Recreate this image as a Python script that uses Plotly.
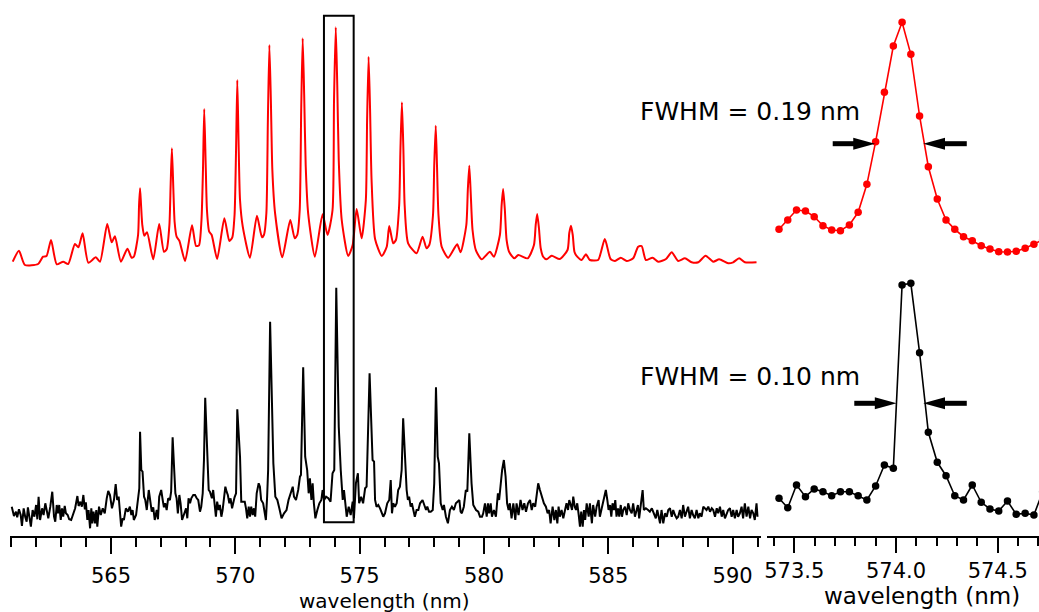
import plotly.graph_objects as go

# ---------------- data (wavelength in nm, intensity in arbitrary units) ----------------
RED_WL = [
    561.05, 561.30, 561.54, 562.07, 562.27, 562.41, 562.59, 562.82, 563.08, 563.28,
    563.55, 563.69, 563.86, 564.09, 564.39, 564.56, 564.85, 565.03, 565.16, 565.40,
    565.66, 565.83, 565.92, 566.09, 566.13, 566.17, 566.21, 566.26, 566.34, 566.45,
    566.70, 566.94, 567.13, 567.24, 567.35, 567.40, 567.45, 567.51, 567.56, 567.64,
    567.75, 567.98, 568.26, 568.42, 568.54, 568.64, 568.70, 568.75, 568.81, 568.86,
    568.95, 569.05, 569.27, 569.56, 569.76, 569.88, 569.97, 570.03, 570.08, 570.13,
    570.19, 570.30, 570.59, 570.87, 571.07, 571.15, 571.25, 571.31, 571.37, 571.43,
    571.49, 571.60, 571.89, 572.21, 572.39, 572.49, 572.59, 572.65, 572.71, 572.77,
    572.83, 572.93, 573.20, 573.51, 573.71, 573.91, 573.97, 574.04, 574.10, 574.16,
    574.28, 574.54, 574.72, 574.88, 575.08, 575.25, 575.30, 575.36, 575.42, 575.48,
    575.62, 575.89, 576.09, 576.19, 576.35, 576.46, 576.59, 576.64, 576.70, 576.76,
    576.81, 576.95, 577.29, 577.53, 577.69, 577.80, 577.95, 578.00, 578.06, 578.11,
    578.17, 578.30, 578.56, 578.92, 579.06, 579.29, 579.35, 579.41, 579.47, 579.54,
    579.68, 579.91, 580.24, 580.40, 580.64, 580.71, 580.77, 580.84, 580.91, 581.02,
    581.22, 581.38, 581.76, 582.01, 582.08, 582.14, 582.21, 582.28, 582.38, 582.52,
    582.72, 583.05, 583.36, 583.43, 583.50, 583.57, 583.64, 583.75, 583.93, 584.10,
    584.26, 584.59, 584.86, 585.09, 585.27, 585.50, 585.74, 586.00, 586.20, 586.34,
    586.51, 586.78, 587.01, 587.32, 587.55, 587.81, 588.08, 588.35, 588.62, 588.91,
    589.22, 589.46, 589.82, 590.02, 590.26, 590.49, 590.96,
]
RED_INT = [
    2.3, 13.3, -1.0, 0, 7.3, 8.0, 24.0, -0.3, 2.3, 0,
    20.0, 16.7, 30.7, 1.3, 6.7, 2.3, 40.0, 21.7, 27.7, 2.3,
    15.3, 6.3, 7.3, 29, 59, 75.7, 59, 39, 28.3, 31.7,
    4.7, 40.0, 12.3, 14.7, 39, 79, 115.7, 74, 42, 27.3,
    23.3, 3.0, 38.7, 18.0, 18.7, 44, 94, 155, 99, 54,
    32.3, 29.0, 5.0, 45.7, 23.0, 26.7, 49, 114, 184, 124,
    64, 37.3, 6.3, 48.3, 26.7, 29.0, 51, 144, 219, 164,
    94, 50.7, 6.7, 44.0, 25.7, 29.0, 54, 154, 225.7, 169,
    99, 50.7, 7.3, 49.7, 29.0, 54, 164, 236.7, 179, 104,
    44.0, 8.0, 19.0, 55.0, 25.7, 64, 144, 207.3, 154, 84,
    25.0, 8.0, 17.3, 38.0, 20.7, 24.0, 59, 114, 161.7, 114,
    59, 20.7, 10.7, 27.3, 15.7, 19.0, 49, 99, 138.3, 99,
    49, 17.3, 6.3, 19.7, 11.7, 39, 74, 98.3, 69, 34,
    13.3, 4.7, 12.3, 7.3, 29, 59, 75, 54, 24, 11.7,
    5.7, 9.0, 5.7, 19, 39, 50, 36, 16, 7.3, 4.7,
    8.3, 5.0, 14, 31, 38.3, 29, 12, 7.3, 4.0, 9.7,
    4.0, 4.0, 25.0, 5.0, 3.0, 6.3, 3.0, 5.7, 17.3, 18.0,
    4.0, 6.3, 2.3, 5.0, 11.7, 3.0, 5.7, 1.7, 1.7, 8.3,
    2.3, 4.7, 0.7, 1.7, 5.7, 1.7, 1.7,
]
RED_OFFSET = 272  # vertical offset of the red spectrum

BLACK_WL = [
    561.01, 561.10, 561.18, 561.23, 561.30, 561.37, 561.42, 561.49, 561.55, 561.61,
    561.66, 561.72, 561.78, 561.85, 561.92, 561.99, 562.04, 562.09, 562.15, 562.23,
    562.29, 562.36, 562.41, 562.48, 562.56, 562.64, 562.71, 562.76, 562.82, 562.87,
    562.92, 562.98, 563.03, 563.08, 563.14, 563.19, 563.26, 563.32, 563.40, 563.48,
    563.56, 563.65, 563.70, 563.77, 563.83, 563.89, 563.95, 563.99, 564.05, 564.10,
    564.16, 564.21, 564.25, 564.30, 564.36, 564.41, 564.45, 564.52, 564.59, 564.67,
    564.75, 564.83, 564.89, 564.96, 565.04, 565.12, 565.19, 565.25, 565.31, 565.36,
    565.41, 565.47, 565.52, 565.60, 565.68, 565.76, 565.82, 565.87, 565.92, 566.01,
    566.09, 566.14, 566.17, 566.22, 566.27, 566.33, 566.38, 566.44, 566.52, 566.57,
    566.64, 566.70, 566.76, 566.84, 566.89, 566.94, 567.02, 567.08, 567.13, 567.18,
    567.24, 567.30, 567.37, 567.42, 567.48, 567.53, 567.59, 567.64, 567.69, 567.75,
    567.80, 567.86, 567.91, 567.96, 568.02, 568.07, 568.12, 568.18, 568.23, 568.31,
    568.38, 568.45, 568.51, 568.58, 568.63, 568.69, 568.74, 568.79, 568.87, 568.93,
    568.98, 569.06, 569.11, 569.17, 569.22, 569.27, 569.33, 569.38, 569.44, 569.49,
    569.54, 569.60, 569.65, 569.70, 569.76, 569.81, 569.87, 569.92, 569.97, 570.03,
    570.08, 570.19, 570.24, 570.30, 570.38, 570.43, 570.48, 570.54, 570.59, 570.64,
    570.70, 570.75, 570.80, 570.86, 570.94, 570.99, 571.04, 571.12, 571.23, 571.28,
    571.32, 571.40, 571.53, 571.61, 571.69, 571.77, 571.86, 571.96, 572.06, 572.14,
    572.23, 572.31, 572.36, 572.44, 572.53, 572.60, 572.64, 572.73, 572.81, 572.89,
    572.95, 573.00, 573.06, 573.11, 573.16, 573.22, 573.30, 573.38, 573.46, 573.51,
    573.57, 573.65, 573.74, 573.83, 573.91, 573.98, 574.06, 574.16, 574.24, 574.32,
    574.37, 574.42, 574.48, 574.56, 574.64, 574.72, 574.77, 574.85, 574.93, 574.98,
    575.06, 575.14, 575.22, 575.28, 575.40, 575.52, 575.58, 575.62, 575.68, 575.75,
    575.82, 575.95, 576.02, 576.11, 576.19, 576.25, 576.30, 576.35, 576.42, 576.49,
    576.55, 576.62, 576.69, 576.75, 576.82, 576.89, 576.94, 576.99, 577.05, 577.10,
    577.16, 577.22, 577.29, 577.36, 577.43, 577.53, 577.60, 577.67, 577.72, 577.79,
    577.86, 577.94, 578.00, 578.07, 578.14, 578.19, 578.26, 578.34, 578.39, 578.47,
    578.55, 578.63, 578.71, 578.79, 578.87, 578.95, 579.01, 579.06, 579.11, 579.19,
    579.27, 579.33, 579.41, 579.50, 579.57, 579.68, 579.77, 579.84, 579.92, 579.97,
    580.04, 580.11, 580.16, 580.21, 580.27, 580.32, 580.40, 580.48, 580.56, 580.61,
    580.67, 580.73, 580.80, 580.87, 580.93, 580.99, 581.04, 581.11, 581.18, 581.26,
    581.31, 581.39, 581.47, 581.55, 581.62, 581.69, 581.77, 581.85, 581.92, 581.98,
    582.06, 582.12, 582.18, 582.25, 582.33, 582.41, 582.49, 582.56, 582.62, 582.68,
    582.76, 582.83, 582.89, 582.95, 583.00, 583.05, 583.12, 583.19, 583.26, 583.32,
    583.38, 583.43, 583.49, 583.54, 583.59, 583.65, 583.70, 583.75, 583.81, 583.86,
    583.91, 583.97, 584.02, 584.07, 584.13, 584.21, 584.26, 584.34, 584.39, 584.47,
    584.53, 584.61, 584.66, 584.72, 584.77, 584.83, 584.90, 584.96, 585.01, 585.07,
    585.12, 585.17, 585.23, 585.28, 585.33, 585.39, 585.44, 585.50, 585.55, 585.60,
    585.67, 585.74, 585.80, 585.87, 585.94, 586.00, 586.07, 586.14, 586.19, 586.24,
    586.30, 586.38, 586.43, 586.51, 586.60, 586.67, 586.75, 586.83, 586.91, 586.97,
    587.02, 587.08, 587.14, 587.21, 587.28, 587.35, 587.41, 587.48, 587.55, 587.61,
    587.68, 587.75, 587.81, 587.88, 587.95, 588.01, 588.08, 588.15, 588.21, 588.28,
    588.35, 588.41, 588.48, 588.55, 588.62, 588.68, 588.75, 588.82, 588.89, 588.95,
    589.02, 589.09, 589.16, 589.22, 589.29, 589.36, 589.42, 589.49, 589.56, 589.62,
    589.69, 589.76, 589.82, 589.89, 589.96, 590.02, 590.09, 590.16, 590.22, 590.29,
    590.36, 590.42, 590.49, 590.56, 590.63, 590.70, 590.76, 590.83, 590.89, 590.96,
    591.00,
]
BLACK_INT = [
    29.3, 20.0, 24.3, 18.7, 26.7, 21.0, 10.0, 27.7, 19.3, 14.3,
    28.7, 16.0, 9.3, 26.0, 19.3, 31.0, 16.7, 39.3, 16.0, 27.7,
    21.0, 32.7, 24.3, 17.7, 29.3, 44.3, 19.3, 14.3, 31.0, 22.7,
    31.0, 16.0, 27.7, 19.3, 30.0, 22.7, 21.0, 16.7, 16.0, 21.0,
    27.7, 40.0, 30.0, 34.3, 29.3, 41.0, 26.7, 33.7, 16.0, 26.0,
    7.7, 27.7, 12.7, 24.3, 12.7, 26.0, 9.3, 29.3, 21.0, 27.7,
    22.7, 37.7, 45.0, 41.0, 27.7, 36.0, 52.0, 36.0, 39.3, 24.3,
    9.3, 17.7, 16.0, 27.7, 24.3, 29.3, 21.0, 26.0, 16.0, 21.0,
    41.0, 47.7, 104.3, 66.0, 64.3, 39.3, 36.0, 26.0, 46.0, 36.0,
    24.3, 28.7, 16.0, 26.0, 16.7, 39.3, 46.0, 36.0, 28.7, 32.7,
    26.0, 37.7, 36.0, 44.3, 98.7, 72.7, 42.7, 37.7, 22.7, 41.0,
    32.7, 16.0, 19.3, 22.7, 27.7, 17.7, 37.7, 32.7, 37.7, 41.0,
    41.0, 37.7, 36.0, 24.3, 29.3, 42.7, 76.0, 138.3, 76.0, 46.0,
    44.3, 37.7, 46.0, 27.7, 19.3, 34.3, 26.0, 31.0, 19.3, 26.0,
    36.0, 49.3, 44.3, 41.0, 32.7, 37.7, 27.7, 34.3, 38.7, 42.7,
    126.7, 79.3, 34.3, 34.3, 34.3, 27.7, 17.7, 29.3, 19.3, 29.3,
    21.0, 27.7, 19.3, 42.7, 52.7, 49.3, 36.0, 32.7, 16.0, 39.3,
    66.0, 214.3, 72.7, 39.3, 36.0, 27.7, 17.7, 22.7, 26.0, 36.0,
    44.3, 49.3, 39.3, 36.0, 46.0, 59.3, 61.0, 168.7, 79.3, 66.0,
    42.7, 57.7, 36.0, 52.7, 32.7, 17.7, 26.0, 32.7, 36.0, 46.0,
    36.0, 39.3, 37.7, 34.3, 62.7, 66.0, 248.3, 109.3, 66.0, 36.0,
    46.0, 32.7, 19.3, 29.3, 21.0, 34.3, 17.7, 52.7, 62.7, 32.7,
    39.3, 32.7, 47.7, 49.3, 162.7, 76.0, 74.3, 36.0, 29.3, 31.0,
    27.7, 19.3, 22.7, 32.7, 36.0, 56.0, 22.7, 32.7, 29.3, 32.7,
    46.0, 49.3, 66.0, 117.7, 79.3, 46.0, 36.0, 39.3, 29.3, 32.7,
    26.0, 19.3, 26.0, 26.0, 32.7, 36.0, 31.0, 26.0, 29.3, 24.3,
    24.3, 26.0, 52.7, 148.7, 79.3, 72.7, 32.7, 26.0, 31.0, 19.3,
    12.7, 26.0, 29.3, 26.0, 32.7, 34.3, 36.0, 24.3, 22.7, 29.3,
    46.0, 44.3, 102.7, 52.7, 31.0, 26.0, 24.3, 19.3, 19.3, 22.7,
    32.7, 19.3, 32.7, 22.7, 32.7, 19.3, 26.0, 19.3, 42.7, 36.0,
    52.7, 66.0, 76.0, 59.3, 32.7, 26.0, 32.7, 17.7, 32.7, 16.0,
    32.7, 21.0, 36.0, 26.0, 32.7, 24.3, 32.7, 36.0, 26.0, 32.7,
    29.3, 42.7, 52.7, 46.0, 39.3, 32.7, 29.3, 22.7, 26.0, 12.7,
    29.3, 16.0, 26.0, 12.7, 29.3, 19.3, 26.0, 17.7, 26.0, 32.7,
    26.0, 36.0, 31.0, 26.0, 39.3, 29.3, 26.0, 32.7, 21.0, 9.3,
    24.3, 9.3, 26.0, 16.0, 32.7, 19.3, 32.7, 12.7, 31.0, 19.3,
    29.3, 36.0, 19.3, 26.0, 32.7, 36.0, 46.0, 36.0, 26.0, 31.0,
    19.3, 32.7, 26.0, 36.0, 19.3, 27.7, 19.3, 31.0, 19.3, 26.0,
    29.3, 21.0, 32.7, 26.0, 22.7, 32.7, 19.3, 26.0, 31.0, 17.7,
    32.7, 46.0, 26.0, 27.7, 26.0, 24.3, 27.7, 22.7, 17.7, 26.0,
    19.3, 12.7, 26.0, 12.7, 22.7, 19.3, 26.0, 27.7, 19.3, 26.0,
    21.0, 17.7, 19.3, 26.0, 17.7, 31.0, 19.3, 26.0, 29.3, 17.7,
    26.0, 21.0, 17.7, 26.0, 17.7, 22.7, 19.3, 29.3, 27.7, 26.0,
    29.3, 24.3, 27.7, 26.0, 19.3, 27.7, 22.7, 29.3, 19.3, 26.0,
    17.7, 22.7, 26.0, 27.7, 19.3, 26.0, 17.7, 26.0, 19.3, 22.7,
    29.3, 17.7, 32.7, 19.3, 29.3, 17.7, 26.0, 22.7, 16.0, 32.7,
    19.3,
]

# zoomed region (right panel)
ZOOM_WL = [
    573.425, 573.468, 573.511, 573.555, 573.598, 573.641, 573.684, 573.727,
    573.771, 573.814, 573.857, 573.900, 573.943, 573.987, 574.030, 574.073,
    574.116, 574.159, 574.203, 574.246, 574.289, 574.332, 574.375, 574.419,
    574.462, 574.505, 574.548, 574.591, 574.635, 574.678, 574.721,
]
ZOOM_RED = [
    34.7, 44.0, 54.0, 53.0, 47.3, 38.3, 34.0, 33.3, 39.0, 51.7, 79.7, 122.3,
    171.7, 218.0, 241.7, 209.7, 148.0, 97.3, 65.0, 44.0, 34.7, 27.3, 23.3,
    18.3, 15.0, 12.3, 12.0, 12.7, 15.7, 19.7, 24.0,
]
ZOOM_BLACK = [
    37.7, 28.3, 51.0, 39.3, 47.0, 44.3, 40.3, 44.3, 44.3, 40.3, 36.0, 50.0,
    71.0, 67.7, 251.0, 252.7, 183.3, 103.7, 73.7, 60.3, 40.3, 36.0, 51.0,
    33.7, 27.0, 25.0, 35.0, 21.7, 22.7, 21.0, 44.3,
]

assert len(RED_WL) == len(RED_INT)
assert len(BLACK_WL) == len(BLACK_INT)
assert len(ZOOM_WL) == len(ZOOM_RED) == len(ZOOM_BLACK)

# window shown in the zoom panel (box on the overview)
BOX_WL = (573.565, 574.76)
BOX_INT = (13.7, 520.3)

# FWHM arrows: (level, left tail, left tip, right tip, right tail)
FWHM_RED = (392.3, 573.689, 573.897, 574.134, 574.348)
FWHM_BLACK = (132.7, 573.795, 574.003, 574.134, 574.348)
FWHM_LABELS = ["FWHM = 0.19 nm", "FWHM = 0.10 nm"]

LEFT_TICKS = [565, 570, 575, 580, 585, 590]
RIGHT_TICKS = [573.5, 574.0, 574.5]

FONT = "DejaVu Sans"
RED = "#ff0000"
BLACK = "#000000"

# ---------------- figure ----------------
fig = go.Figure()
fig.add_trace(go.Scatter(x=RED_WL, y=[v + RED_OFFSET for v in RED_INT], mode="lines",
                         line=dict(color=RED, width=2, shape="spline", smoothing=0.6),
                         xaxis="x", yaxis="y"))
fig.add_trace(go.Scatter(x=BLACK_WL, y=BLACK_INT, mode="lines",
                         line=dict(color=BLACK, width=2), xaxis="x", yaxis="y"))
fig.add_trace(go.Scatter(x=ZOOM_WL, y=[v + RED_OFFSET for v in ZOOM_RED], mode="lines+markers",
                         line=dict(color=RED, width=1.6), marker=dict(color=RED, size=7.5),
                         xaxis="x2", yaxis="y2"))
fig.add_trace(go.Scatter(x=ZOOM_WL, y=ZOOM_BLACK, mode="lines+markers",
                         line=dict(color=BLACK, width=1.6), marker=dict(color=BLACK, size=7.5),
                         xaxis="x2", yaxis="y2"))

W, H = 1039, 612
ML, MR, MT, MB = 10, 0, 0, 76
PW = W - ML - MR
PH = H - MT - MB


def px(xp):
    return (xp - ML) / PW


def py(yp):
    return (H - MB - yp) / PH


shapes = [dict(type="rect", xref="x", yref="y", x0=BOX_WL[0], x1=BOX_WL[1],
               y0=BOX_INT[0], y1=BOX_INT[1], line=dict(color=BLACK, width=2))]

HEAD_LEN = 0.107
HEAD_HALF = 6
for lev, lt, ltip, rtip, rt in (FWHM_RED, FWHM_BLACK):
    shapes.append(dict(type="line", xref="x2", yref="y2", x0=lt, x1=ltip - HEAD_LEN * 0.6,
                       y0=lev, y1=lev, line=dict(color=BLACK, width=5)))
    shapes.append(dict(type="path", xref="x2", yref="y2",
                       path=f"M {ltip},{lev} L {ltip - HEAD_LEN},{lev + HEAD_HALF} L {ltip - HEAD_LEN},{lev - HEAD_HALF} Z",
                       fillcolor=BLACK, line=dict(width=0)))
    shapes.append(dict(type="line", xref="x2", yref="y2", x0=rt, x1=rtip + HEAD_LEN * 0.6,
                       y0=lev, y1=lev, line=dict(color=BLACK, width=5)))
    shapes.append(dict(type="path", xref="x2", yref="y2",
                       path=f"M {rtip},{lev} L {rtip + HEAD_LEN},{lev + HEAD_HALF} L {rtip + HEAD_LEN},{lev - HEAD_HALF} Z",
                       fillcolor=BLACK, line=dict(width=0)))

annotations = [
    dict(text=FWHM_LABELS[0], xref="paper", yref="paper", x=px(862), y=py(111),
         xanchor="right", yanchor="middle", showarrow=False, font=dict(size=25, color=BLACK, family=FONT)),
    dict(text=FWHM_LABELS[1], xref="paper", yref="paper", x=px(862), y=py(376),
         xanchor="right", yanchor="middle", showarrow=False, font=dict(size=25, color=BLACK, family=FONT)),
    dict(text="wavelength (nm)", xref="paper", yref="paper", x=px(384), y=py(601),
         xanchor="center", yanchor="middle", showarrow=False, font=dict(size=20, color=BLACK, family=FONT)),
    dict(text="wavelength (nm)", xref="paper", yref="paper", x=px(921.7), y=py(596),
         xanchor="center", yanchor="middle", showarrow=False, font=dict(size=23, color=BLACK, family=FONT)),
]

axis_common = dict(showline=True, linecolor=BLACK, linewidth=2, ticks="outside", tickwidth=2,
                   tickcolor=BLACK, showgrid=False, zeroline=False,
                   tickfont=dict(size=21, color=BLACK, family=FONT))

fig.update_layout(
    width=W, height=H,
    margin=dict(l=ML, r=MR, t=MT, b=MB, pad=0),
    paper_bgcolor="white", plot_bgcolor="white",
    showlegend=False,
    hovermode=False,
    font=dict(family=FONT, color=BLACK),
    xaxis=dict(domain=[0, px(761)], range=[560.94, 591.14], anchor="y",
               tickvals=LEFT_TICKS, ticktext=[str(t) for t in LEFT_TICKS], ticklen=16,
               ticklabelstandoff=4,
               minor=dict(ticks="outside", dtick=1, tick0=0, ticklen=9, tickwidth=2, tickcolor=BLACK,
                          showgrid=False),
               **axis_common),
    xaxis2=dict(domain=[px(767), 1], range=[573.366, 574.703], anchor="y2",
                tickvals=RIGHT_TICKS, ticktext=[f"{t:.1f}" for t in RIGHT_TICKS], ticklen=15,
                ticklabelstandoff=0,
                minor=dict(ticks="outside", dtick=0.1, tick0=0, ticklen=8, tickwidth=2, tickcolor=BLACK,
                           showgrid=False),
                **axis_common),
    yaxis=dict(domain=[0, 1], range=[0, PH], visible=False, anchor="x"),
    yaxis2=dict(domain=[0, 1], range=[0, PH], visible=False, anchor="x2"),
    shapes=shapes,
    annotations=annotations,
)

fig.write_html("out.html", config={"displayModeBar": False, "staticPlot": True},
               post_script="document.body.style.margin='0';document.body.style.overflow='hidden';")
